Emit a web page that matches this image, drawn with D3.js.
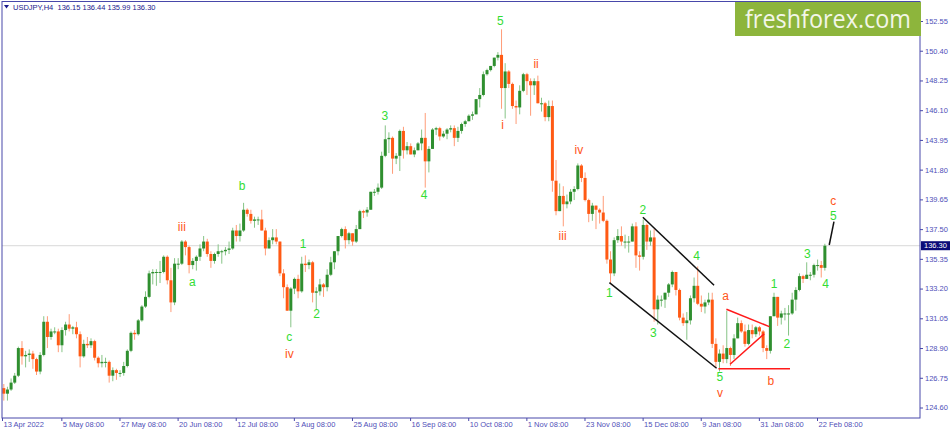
<!DOCTYPE html>
<html>
<head>
<meta charset="utf-8">
<script src="https://cdnjs.cloudflare.com/ajax/libs/d3/7.8.5/d3.min.js"></script>
<style>
body { margin: 0; background: #fff; }
svg { display: block; font-family: "Liberation Sans", Arial, sans-serif; }
</style>
</head>
<body>
<svg id="chart" width="950" height="430"></svg>
<script>
// USDJPY daily bars, 13 Apr 2022 .. 24 Feb 2023 (one row per week)
var opens = [
  126.0,125.6,125.9,
  126.4,126.9,128.9,128.3,128.4, 128.5,128.1,127.2,128.4,130.8,
  129.7,130.1,130.1,129.1,130.2, 130.6,130.3,130.4,129.9,128.3,
  129.2,129.1,129.4,128.2,127.8, 127.9,127.9,126.9,127.3,127.1,
  127.1,127.6,128.7,130.0,129.9, 130.9,131.9,132.6,134.3,134.4,
  134.4,134.4,135.5,133.8,132.2, 135.0,135.0,136.6,136.2,134.9,
  135.2,135.5,136.1,136.6,135.7, 135.2,135.7,135.9,135.9,136.0,
  136.1,137.4,137.0,137.4,138.9, 138.6,138.1,138.2,138.2,137.4,
  136.1,136.7,136.9,136.6,134.3, 133.3,131.6,133.2,133.9,133.0,
  135.0,134.9,135.1,132.9,133.0, 133.5,133.3,134.2,135.1,135.9,
  137.0,137.5,136.7,137.2,136.6, 137.5,138.8,138.7,138.9,140.2,
  140.2,140.5,142.8,144.0,144.1, 142.6,142.8,144.6,143.2,143.5,
  142.9,143.2,143.7,144.1,142.4, 143.3,144.7,144.8,144.2,144.4,
  144.7,144.8,144.1,144.6,145.1, 145.3,145.7,145.8,146.9,147.2,
  148.7,149.0,149.3,149.9,150.1, 147.7,148.9,148.0,146.4,146.3,
  147.5,148.7,148.2,147.9,148.2, 146.6,146.6,145.6,146.4,141.0,
  138.8,139.9,139.3,139.5,140.2, 140.4,142.1,141.2,139.6,138.6,
  139.2,138.9,138.7,138.1,135.3, 134.3,136.7,137.0,136.6,136.6,
  136.6,137.7,135.6,135.5,137.8, 136.6,136.9,131.7,132.4,132.4,
  132.9,133.5,134.4,133.1, 131.1,130.7,130.9,132.5,133.4,
  132.1,131.9,132.2,132.4,129.2, 127.9,128.5,128.1,128.9,128.4,
  129.6,130.7,130.1,129.2,130.2, 129.9,130.4,130.1,128.9,128.7,
  131.2,132.6,131.1,131.4,131.4, 131.4,132.4,133.1,134.1,133.9,
  134.2,134.2,134.9,134.9,134.7
];
var highs = [
  126.3,126.1,126.7,
  127.1,129.0,129.4,128.7,128.8, 128.7,128.2,128.6,131.2,131.2,
  130.3,130.4,130.3,130.4,130.8, 131.35,130.5,130.8,130.1,129.5,
  129.7,129.6,129.5,128.3,128.4, 128.2,128.0,127.5,127.4,127.3,
  127.9,128.8,130.1,130.2,131.0, 132.0,133.0,134.5,134.6,134.6,
  135.2,135.6,135.6,134.7,135.4, 135.4,136.7,136.7,136.3,135.4,
  135.6,136.4,137.0,136.8,135.9, 135.8,136.4,136.0,136.2,136.6,
  137.6,137.8,137.9,139.4,139.0, 138.9,138.4,138.4,138.9,137.6,
  136.9,137.5,137.5,136.6,134.6, 133.5,133.3,134.0,134.2,135.5,
  135.6,135.3,135.2,133.3,133.9, 133.6,134.6,135.5,135.9,137.0,
  137.6,137.7,137.3,137.2,137.8, 138.9,138.9,139.1,140.2,140.4,
  140.8,143.1,145.0,144.5,144.2, 143.0,144.7,144.9,143.8,143.7,
  143.4,143.8,144.7,145.9,143.5, 144.8,144.9,144.9,144.6,144.8,
  145.0,145.0,144.9,145.2,145.4, 145.8,146.0,146.9,147.7,148.9,
  149.1,149.3,149.9,150.3,151.95, 149.5,149.0,148.1,146.8,147.9,
  148.8,148.8,148.4,148.4,148.6, 147.0,146.7,146.8,146.8,142.5,
  140.8,140.6,140.0,140.4,140.6, 142.25,142.2,141.6,139.7,139.4,
  139.2,139.0,139.9,138.2,135.9, 136.9,137.5,137.7,137.1,137.0,
  137.9,138.0,135.9,138.2,137.9, 137.4,137.5,132.7,132.7,132.9,
  133.6,134.5,134.4,133.2, 131.4,131.5,132.7,134.0,134.8,
  132.7,132.4,132.9,132.9,129.6, 128.8,129.1,131.6,129.0,129.9,
  131.1,130.9,130.6,130.6,130.6, 130.5,130.5,130.2,129.1,131.2,
  132.9,132.6,131.6,131.8,132.0, 132.9,133.3,134.3,134.2,135.1,
  134.4,135.0,135.3,135.2,136.44
];
var lows = [
  125.1,125.1,125.8,
  126.3,126.8,127.7,127.5,127.9, 127.4,126.95,127.0,128.3,128.9,
  129.5,129.9,128.6,128.6,129.8, 130.1,129.9,129.6,127.5,128.2,
  128.9,128.9,128.0,127.5,127.5, 127.5,126.4,126.5,126.6,126.8,
  126.9,127.5,128.6,129.5,129.8, 130.8,131.8,132.5,133.5,133.4,
  133.6,134.3,133.5,131.5,132.0, 134.6,134.9,135.6,134.3,134.6,
  134.5,135.2,135.9,135.5,134.7, 135.0,135.5,135.0,135.6,135.7,
  136.0,136.6,136.6,137.3,138.4, 137.9,137.6,137.8,137.4,135.6,
  136.1,136.4,136.4,134.1,132.5, 131.6,130.4,132.8,132.5,132.9,
  134.4,134.6,132.2,131.7,132.7, 132.6,133.0,134.1,134.6,135.6,
  136.9,136.1,136.4,136.3,136.5, 137.5,138.3,138.4,138.9,139.9,
  140.0,140.4,142.7,143.0,141.5, 142.2,141.7,142.6,142.9,142.9,
  142.7,143.2,143.2,140.5,141.6, 143.3,144.3,143.9,144.1,144.0,
  144.5,143.5,143.8,144.4,144.9, 145.3,145.4,145.8,146.3,147.1,
  148.6,148.9,149.2,149.7,146.2, 145.5,147.7,146.2,145.1,145.8,
  147.4,147.2,145.7,147.2,146.6, 146.0,145.3,145.3,140.2,138.5,
  138.8,137.7,139.0,139.3,139.6, 140.3,140.9,139.5,138.0,138.1,
  137.5,137.9,138.0,135.0,133.6, 134.1,136.5,136.3,136.1,135.8,
  136.6,134.7,134.5,135.3,136.0, 136.3,130.8,130.6,131.9,131.8,
  132.6,133.3,132.7,130.9, 130.5,129.5,130.6,132.2,132.0,
  131.5,131.4,132.0,128.9,127.5, 127.2,127.8,127.8,127.6,128.1,
  129.6,130.0,129.0,129.1,129.6, 129.7,129.8,128.6,128.1,128.5,
  131.2,130.5,130.6,130.9,129.8, 131.3,131.6,133.0,133.6,133.9,
  133.8,134.0,134.5,134.0,134.5
];
var closes = [
  125.6,125.9,126.4,
  126.9,128.9,128.3,128.4,128.5, 128.1,127.2,128.4,130.8,129.7,
  130.1,130.1,129.1,130.2,130.6, 130.3,130.4,129.9,128.3,129.2,
  129.1,129.4,128.2,127.8,127.9, 127.9,126.9,127.3,127.1,127.1,
  127.6,128.7,130.0,129.9,130.9, 131.9,132.6,134.3,134.4,134.4,
  134.4,135.5,133.8,132.2,135.0, 135.0,136.6,136.2,134.9,135.2,
  135.5,136.1,136.6,135.7,135.2, 135.7,135.9,135.9,136.0,136.1,
  137.4,137.0,137.4,138.9,138.6, 138.1,138.2,138.2,137.4,136.1,
  136.7,136.9,136.6,134.3,133.3, 131.6,133.2,133.9,133.0,135.0,
  134.9,135.1,132.9,133.0,133.5, 133.3,134.2,135.1,135.9,137.0,
  137.5,136.7,137.2,136.6,137.5, 138.8,138.7,138.9,140.2,140.2,
  140.5,142.8,144.0,144.1,142.6, 142.8,144.6,143.2,143.5,142.9,
  143.2,143.7,144.1,142.4,143.3, 144.7,144.8,144.2,144.4,144.7,
  144.8,144.1,144.6,145.1,145.3, 145.7,145.8,146.9,147.2,148.7,
  149.0,149.3,149.9,150.1,147.7, 148.9,148.0,146.4,146.3,147.5,
  148.7,148.2,147.9,148.2,146.6, 146.6,145.6,146.4,141.0,138.8,
  139.9,139.3,139.5,140.2,140.4, 142.1,141.2,139.6,138.6,139.2,
  138.9,138.7,138.1,135.3,134.3, 136.7,137.0,136.6,136.6,136.6,
  137.7,135.6,135.5,137.8,136.6, 136.9,131.7,132.4,132.4,132.9,
  133.5,134.4,133.1,131.1, 130.7,130.9,132.5,133.4,132.1,
  131.9,132.2,132.4,129.2,127.9, 128.5,128.1,128.9,128.4,129.6,
  130.7,130.1,129.2,130.2,129.9, 130.4,130.1,128.9,128.7,131.2,
  132.6,131.1,131.4,131.4,131.4, 132.4,133.1,134.1,133.9,134.2,
  134.2,134.9,134.9,134.7,136.30
];

var priceTicks = [152.55, 150.40, 148.25, 146.10, 143.95, 141.80, 139.65, 137.50, 135.35, 133.20, 131.05, 128.90, 126.75, 124.60];
var timeLabels = ["13 Apr 2022", "5 May 08:00", "27 May 08:00", "20 Jun 08:00", "12 Jul 08:00", "3 Aug 08:00", "25 Aug 08:00",
    "16 Sep 08:00", "10 Oct 08:00", "1 Nov 08:00", "23 Nov 08:00", "15 Dec 08:00", "9 Jan 08:00", "31 Jan 08:00", "22 Feb 08:00"];
var timeBars = [0, 98, 194, 290, 386, 482, 578, 674, 770, 866, 962, 1058, 1154, 1250, 1346];   // H4 bar index

// wave counts: text, day index, price
var greenWaves = [
  {t: "a", d: 51.9, p: 133.70}, {t: "b", d: 65.6, p: 140.62}, {t: "c", d: 78.6, p: 129.72},
  {t: "1", d: 82.4, p: 136.48}, {t: "2", d: 86.1, p: 131.41}, {t: "3", d: 104.9, p: 145.70},
  {t: "4", d: 115.7, p: 140.02}, {t: "5", d: 136.7, p: 152.57},
  {t: "1", d: 166.7, p: 132.93}, {t: "2", d: 175.9, p: 138.93}, {t: "3", d: 178.8, p: 130.04},
  {t: "4", d: 190.7, p: 135.56}, {t: "5", d: 197.1, p: 126.83},
  {t: "1", d: 212.0, p: 133.53}, {t: "2", d: 215.5, p: 129.25}, {t: "3", d: 221.2, p: 135.75},
  {t: "4", d: 226.2, p: 133.53}, {t: "5", d: 228.3, p: 138.50}
];
var orangeWaves = [
  {t: "iii", d: 49.0, p: 137.68}, {t: "iv", d: 78.6, p: 128.52}, {t: "i", d: 137.3, p: 145.03},
  {t: "ii", d: 146.5, p: 149.49}, {t: "iii", d: 153.8, p: 137.00}, {t: "iv", d: 158.3, p: 143.22},
  {t: "v", d: 197.1, p: 125.67}, {t: "a", d: 198.7, p: 132.70}, {t: "b", d: 211.1, p: 126.54},
  {t: "c", d: 228.3, p: 139.55}
];
// trend lines: [day, price] pairs
var blackLines = [
  [[175.9, 138.36], [195.5, 133.44]],
  [[166.7, 133.63], [196.2, 127.44]],
  [[227.2, 136.35], [228.5, 138.04]]
];
var redLines = [
  [[198.9, 131.70], [210.7, 130.45]],
  [[199.9, 127.73], [209.3, 129.92]],
  [[196.7, 127.41], [216.4, 127.41]]
];
var lastPrice = 136.30;
var lastBar = [136.15, 136.44, 135.99, 136.30];

const svg = d3.select('#chart'),
    width = +svg.attr('width'),
    height = +svg.attr('height');

var plot = { left: 2, right: 920, top: 1.5, bottom: 418 };
var axisFont = 7.5;

var x = d3.scaleLinear().domain([0, 1346]).range([2, 817]);
var y = d3.scaleLinear().domain([124.60, 152.55]).range([407.5, 21]);
var dayX = d => x(6 * d + 3);

svg.append('rect').attr('width', width).attr('height', height).attr('fill', '#fff');

svg.append('defs').append('clipPath').attr('id', 'clip')
    .append('rect')
    .attr('x', plot.left).attr('y', plot.top)
    .attr('width', plot.right - plot.left).attr('height', plot.bottom - plot.top);

var g = svg.append('g').attr('clip-path', 'url(#clip)');

// last price line
g.append('line')
    .attr('x1', plot.left).attr('x2', plot.right)
    .attr('y1', y(lastPrice)).attr('y2', y(lastPrice))
    .attr('stroke', '#d9d9d9').attr('stroke-width', 1);

var days = d3.range(closes.length);

// wicks
g.selectAll('.wick')
    .data(days)
    .enter().append('line')
    .attr('class', 'wick')
    .attr('x1', d => dayX(d)).attr('x2', d => dayX(d))
    .attr('y1', d => y(highs[d])).attr('y2', d => y(lows[d]))
    .attr('stroke', d => closes[d] >= opens[d] ? '#86c486' : '#ff9c78')
    .attr('stroke-width', 1);

// bodies
g.selectAll('.body')
    .data(days)
    .enter().append('rect')
    .attr('class', 'body')
    .attr('x', d => dayX(d) - 1.5)
    .attr('width', 3)
    .attr('y', d => y(Math.max(opens[d], closes[d])))
    .attr('height', d => Math.max(1, Math.abs(y(opens[d]) - y(closes[d]))))
    .attr('fill', d => closes[d] >= opens[d] ? '#2f8f2f' : '#ff5a14');

// channel + triangle
var line = d3.line().x(d => dayX(d[0])).y(d => y(d[1]));
g.selectAll('.blk')
    .data(blackLines)
    .enter().append('path')
    .attr('class', 'blk')
    .attr('d', line)
    .attr('stroke', '#111').attr('stroke-width', 1.5).attr('fill', 'none');
g.selectAll('.red')
    .data(redLines)
    .enter().append('path')
    .attr('class', 'red')
    .attr('d', line)
    .attr('stroke', '#ff1a1a').attr('stroke-width', 1.5).attr('fill', 'none');

// wave labels
function waveText(data, color) {
    g.append('g').selectAll('text')
        .data(data)
        .enter().append('text')
        .attr('x', d => dayX(d.d))
        .attr('y', d => y(d.p))
        .attr('dy', '0.36em')
        .attr('text-anchor', 'middle')
        .attr('font-size', 12)
        .attr('fill', color)
        .text(d => d.t);
}
waveText(greenWaves, '#33dd33');
waveText(orangeWaves, '#ff5519');

// frame
svg.append('rect')
    .attr('x', plot.left).attr('y', plot.top)
    .attr('width', plot.right - plot.left).attr('height', plot.bottom - plot.top)
    .attr('fill', 'none').attr('stroke', '#4848aa').attr('stroke-width', 1);

// price axis
var yAxis = svg.append('g')
    .attr('transform', 'translate(' + plot.right + ',0)')
    .call(d3.axisRight(y).tickValues(priceTicks).tickFormat(d3.format('.2f')).tickSize(3).tickPadding(2));
yAxis.select('.domain').remove();
yAxis.selectAll('line').attr('stroke', '#4848aa');
yAxis.selectAll('text').attr('fill', '#4f4fb8').attr('font-size', axisFont).attr('font-family', '"Liberation Sans", Arial, sans-serif');

// time axis
var xAxis = svg.append('g')
    .attr('transform', 'translate(0,' + plot.bottom + ')')
    .call(d3.axisBottom(x).tickValues(timeBars).tickFormat((d, i) => timeLabels[i]).tickSize(3).tickPadding(1));
xAxis.select('.domain').remove();
xAxis.selectAll('line').attr('stroke', '#4848aa');
xAxis.selectAll('text')
    .attr('fill', '#4f4fb8').attr('font-size', axisFont).attr('font-family', '"Liberation Sans", Arial, sans-serif')
    .attr('text-anchor', 'start').attr('x', 1);

// current price tag
svg.append('rect')
    .attr('x', 921).attr('y', y(lastPrice) - 4.5).attr('width', 29).attr('height', 9)
    .attr('fill', '#0b0b78');
svg.append('text')
    .attr('x', 924).attr('y', y(lastPrice)).attr('dy', '0.35em')
    .attr('font-size', axisFont).attr('fill', '#fff')
    .text(d3.format('.2f')(lastPrice));

// symbol header
svg.append('path').attr('d', 'M4,5 L9,5 L6.5,8.5 Z').attr('fill', '#1a1a8c');
svg.append('text')
    .attr('x', 13).attr('y', 9.5)
    .attr('font-size', axisFont).attr('fill', '#1a1a8c')
    .style('white-space', 'pre')
    .text('USDJPY,H4  ' + lastBar.map(d3.format('.2f')).join(' '));

// logo
svg.append('rect').attr('x', 735).attr('y', 2).attr('width', 186).attr('height', 34).attr('fill', '#8db53c');
svg.append('text')
    .attr('x', 745).attr('y', 28)
    .attr('font-family', '"Open Sans", sans-serif').attr('font-size', 26)
    .attr('fill', '#f3f6e8')
    .attr('textLength', 166).attr('lengthAdjust', 'spacingAndGlyphs')
    .text('freshforex.com');
</script>
</body>
</html>
